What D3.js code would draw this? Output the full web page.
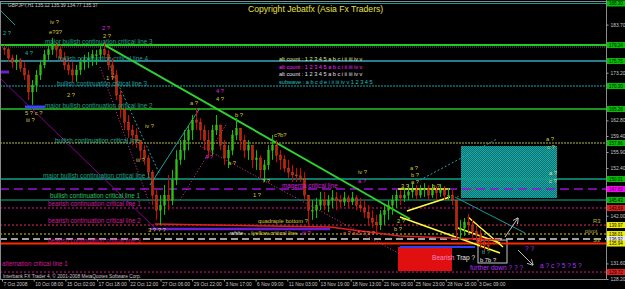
<!DOCTYPE html>
<html>
<head>
<meta charset="utf-8">
<script src="https://cdn.jsdelivr.net/npm/d3@7"></script>
<style>
  body { margin: 0; background: #000; }
  svg { display: block; font-family: "Liberation Sans", Arial, sans-serif; }
</style>
</head>
<body>
<svg id="chart" width="625" height="289"></svg>
<script>
// ---- data (GBPJPY H1, 7 Oct - 3 Dec 2008) ----
var firstOpen = 178.6;
var highs = [179.2,178.6,177.1,177.1,176.4,175.5,173.8,171.6,173.8,176.0,
             178.2,179.2,180.8,179.9,179.2,177.7,176.4,175.5,174.9,176.4,
             177.1,177.7,178.2,178.2,179.2,179.9,178.2,176.4,173.8,169.4,
             165.5,164.0,161.8,161.1,158.5,157.4,155.2,152.0,147.6,146.5,
             148.7,150.9,152.0,156.3,158.5,160.7,161.8,164.0,165.5,163.3,
             161.8,160.7,161.8,164.0,161.8,158.5,157.4,160.7,163.3,161.1,
             159.6,158.5,157.4,156.3,155.2,154.2,157.4,159.6,158.5,156.3,
             155.2,154.2,153.1,152.4,152.4,151.5,146.5,145.4,145.9,147.2,
             147.2,146.5,147.6,147.2,146.5,147.2,146.5,147.2,146.5,145.9,
             145.4,144.3,143.2,142.2,143.2,144.3,145.4,146.5,147.6,147.6,
             148.0,148.7,149.1,148.7,148.7,149.1,148.7,148.9,148.5,148.9,
             148.5,148.0,147.6,145.4,141.1,141.5,142.4,141.1,140.0,138.9,
             137.1,136.7];
var lows = [177.1,175.5,174.2,173.8,173.4,171.6,167.2,166.2,169.0,171.6,
            174.2,176.0,177.1,176.4,175.5,173.8,172.7,171.2,171.2,172.7,
            173.8,174.2,174.7,174.9,176.0,176.4,173.8,171.6,167.2,163.3,
            160.7,159.0,157.4,156.8,154.2,153.1,150.2,144.3,141.1,140.0,
            142.2,143.2,144.3,148.7,153.1,154.2,156.3,158.5,160.7,158.5,
            156.3,154.6,155.2,159.6,156.3,153.1,152.4,155.2,158.5,156.3,
            154.6,154.2,152.4,152.0,150.2,149.4,152.0,154.2,153.7,152.0,
            151.5,150.2,149.4,149.4,149.4,145.4,140.0,141.1,141.5,143.2,
            143.2,142.8,143.7,143.2,143.7,144.1,143.7,144.3,143.2,142.8,
            141.5,140.0,139.3,138.2,138.9,140.0,141.1,142.2,143.7,144.3,
            145.0,145.4,145.9,145.4,145.9,146.1,145.4,145.9,145.4,146.1,
            145.4,145.4,144.3,137.1,136.7,137.6,138.5,137.1,136.3,135.0,
            134.1,134.8];
var closes = [178.2,176.4,175.5,176.0,174.2,172.7,169.0,170.5,172.7,174.9,
              177.1,178.2,179.2,178.2,176.4,174.9,173.8,172.7,173.8,175.5,
              176.0,176.4,177.1,177.1,178.2,177.1,174.9,172.7,168.3,165.1,
              162.4,160.7,159.6,158.5,156.3,154.6,151.5,146.5,143.2,144.3,
              146.5,145.4,149.8,154.2,156.3,158.5,160.7,162.9,162.4,160.7,
              158.5,156.3,160.7,161.8,157.4,154.6,156.3,159.6,161.1,158.5,
              156.3,157.4,154.2,154.6,152.0,153.1,156.3,157.4,155.2,154.2,
              152.4,151.5,150.9,150.7,150.2,146.5,143.2,143.2,144.3,145.4,
              144.3,145.4,145.9,145.4,145.0,145.9,145.0,145.9,144.3,143.7,
              142.8,141.5,140.6,140.0,142.2,143.2,144.3,145.4,146.5,145.9,
              146.5,147.2,147.6,146.5,147.6,148.0,146.5,147.6,147.0,147.6,
              146.5,146.5,145.4,138.9,139.3,140.6,140.0,138.5,137.8,136.3,
              135.6,135.4];

var timeLabels = ["7 Oct 2008","10 Oct 08:00","15 Oct 02:00","17 Oct 18:00","22 Oct 12:00",
                  "27 Oct 06:00","29 Oct 22:00","3 Nov 17:00","6 Nov 09:00","11 Nov 03:00",
                  "13 Nov 19:00","18 Nov 13:00","21 Nov 05:00","25 Nov 23:00","28 Nov 15:00","3 Dec 09:00"];
var barsPerLabel = 7.925;
var priceTicks = [128.2,131.6,135.1,138.6,142.0,145.5,149.0,152.4,155.9,159.4,
                  162.8,166.3,169.7,173.2,176.7,180.2,183.7,187.1];

// horizontal critical lines
var levelPrices = [188.30,179.24,178.81,175.75,170.30,165.28,157.86,150.01,147.83,
                   145.43,143.69,139.97,138.01,136.92,135.94,129.72];
var levelLabels = ["","major bullish continuation critical line 3","","bullish continuation critical line 4",
                   "bullish continuation critical line 3","major bullish continuation critical line 2",
                   "bullish continuation critical line","major bullish continuation critical line 1",
                   "magenta critical line","bullish continuation critical line 1",
                   "bearish continuation critical line 1","bearish continuation critical line 2","","",
                   "bearish continuation critical line 3","alternation critical line 1"];

// trend lines: [bar, price] points
var trendLines = [
  [[25.25,179.46],[102,141.29]],
  [[113.25,146.08],[130.75,138.23]],
  [[-0.5,172.04],[38.25,139.32]],
  [[24.5,174.44],[37,144.34]],
  [[26.5,175.53],[39.5,150.88]],
  [[37,148.70],[49.5,165.50]],
  [[44.5,145.43],[56.25,162.23]],
  [[49.5,157.21],[99.5,133.65]],
  [[104.5,149.79],[123.75,158.74]],
  [[113.75,146.08],[118.75,148.26]],
  [[99,147.83],[112,147.83]],
  [[101.25,143.03],[112,146.08]],
  [[99.5,141.72],[124.5,133.87]],
  [[116.5,141.72],[125.25,135.18]],
  [[114,139.32],[124.5,136.05]],
  [[-0.5,186.88],[3.25,183.61]],
  [[37,139.10],[82,139.10]],
  [[38.25,140.20],[82,139.54],[99.5,137.58],[124.5,136.70]],
  [[99.5,135.18],[118.25,135.18]],
  [[-0.5,173.35],[1.75,173.35]],
  [[5.75,165.72],[10.75,165.72]]
];
var arrows = [
  [[125.75,137.36],[129,141.5]],
  [[129,134.52],[132.75,131.25]]
];
// boxes: [bar0, bar1, priceTop, priceBottom]
var boxes = [
  [114.75,138.75,157.21,145.87],
  [99,112.5,135.18,129.94],
  [119,126.25,136.70,131.69]
];

// wave-count annotations: [bar, price, text, colour key]
var notes = [
  [12,184.26,"iv ?","Y"],[11.75,182.08,"e?3?","Y"],[0.25,181.86,"2 ?","T"],[5.75,177.5,"4 ?","T"],
  [25,182.9,"2 ?","M"],[25.25,181.2,"2 ?","Y"],[26,172.04,"1 ?","Y"],[16.25,168.34,"2 ?","Y"],
  [5.75,164.41,"5 ? c ?","Y"],[6,162.88,"iii ?","Y"],[35.75,161.57,"iv ?","Y"],[33.5,154.16,"iii ?","Y"],
  [47,166.59,"a ?","Y"],[53.5,169.21,"4 ?","M"],[53.5,167.46,"4 ?","Y"],[58.25,163.97,"b ?","Y"],
  [68,159.61,"c?b?","Y"],[56.5,153.5,"a ?","Y"],[50.75,154.81,"4 ?","M"],[65,149.57,"? ?","Y"],
  [62.75,146.52,"1 ?","Y"],[89,151.54,"iv ?","Y"],[89,149.57,"a ?","M"],
  [102,152.41,"a ?","Y"],[102.25,150.88,"b ?","Y"],[102.25,149.36,"a ?","Y"],[99.75,148.48,"3 ?","Y"],
  [107.5,148.48,"b ?","Y"],[136,158.74,"a ?","Y"],[136.25,157.0,"c ?","Y"],
  [136.75,151.32,"a ?","L"],[136.75,149.57,"c ?","L"],[36.5,138.89,"3 ? ? ?","Y"],
  [64,140.85,"quadraple bottom ?","Y"],[57,138.23,"white","W"],[62.2,138.23,"/yellow critical line","Y"],
  [75,138.23,"iii ?","M"],[85.25,138.23,"c ? a 5 ? 3 ?","R"],[98.75,140.85,"2 ?","Y"],[98,139.1,"b ?","Y"],
  [147.75,140.85,"R3","O"],[145.75,138.67,"pivot","O"],[147.75,136.7,"S3","O"],
  [107.5,132.78,"Bearish","P"],[113.6,132.78,"Trap ?","W"],
  [117,130.6,"further down ?  ? ?","V"],[134.5,131.03,"a ? c ? 5 ? 5 ?","V"],[130.75,134.74,"? ?","V"],
  [120,134.09,"b ?","T"],[119.5,132.34,"b 7b ?","W"]
];
var altCount = ["alt count : 1 2 3 4 5 a b c i ii iii iv v","alt count : 1 2 3 4 5 a b c i ii iii iv v",
                "alt count : 1 2 3 4 5 a b c i ii iii iv v","subwave : a b c d e i ii iii iv v 1 2 3 4 5"];

// ---- styles ----
var noteColors = {Y:"#d8c838",M:"#e020e0",T:"#20b0b0",W:"#e8e8e8",O:"#b8b040",P:"#ff80c0",V:"#b030ff",L:"#e0e090",R:"#ff6040"};
var levelStyles = [
  {c:"#1e9c9c",w:1,d:null,box:"#00c000",lx:0,t:"#1fa58a",dy:0},
  {c:"#22c822",w:2,d:null,box:"#00c000",lx:45,t:"#1fa58a",dy:-1},
  {c:"#606060",w:1,d:"1,1",box:null,lx:0,t:"",dy:0},
  {c:"#2a7d8c",w:2,d:null,box:"#00c000",lx:58,t:"#1fa09a",dy:0},
  {c:"#18a8a8",w:1,d:"2,1",box:"#00c000",lx:57,t:"#1fa0a0",dy:0},
  {c:"#22c822",w:1.5,d:null,box:"#00c000",lx:45,t:"#20a080",dy:-1},
  {c:"#7a7a30",w:1.5,d:"2,1",box:"#00c000",lx:55,t:"#28b090",dy:0},
  {c:"#12a08a",w:1.5,d:null,box:"#00c000",lx:43,t:"#20a080",dy:-1},
  {c:"#9a10d8",w:1.5,d:"9,5",box:"#ff00ff",lx:282,t:"#d020d0",dy:-1},
  {c:"#10b090",w:1,d:null,box:"#00c000",lx:50,t:"#30c060",dy:-2},
  {c:"#e0109a",w:1,d:"2,2",box:"#e02020",lx:48,t:"#d0189a",dy:-2},
  {c:"#e03060",w:1,d:"2,2",box:"#f0f000",lx:48,t:"#d0189a",dy:-2},
  {c:"#8a8a20",w:1.5,d:"2,2",box:"#f0f000",lx:0,t:"",dy:0},
  {c:"#a0a0a0",w:2,d:"7,4",box:"#e8e8e8",lx:0,t:"",dy:0},
  {c:"#ff2a00",w:2,d:null,box:"#f0f000",lx:48,t:"#d0189a",dy:-1},
  {c:"#e0108a",w:1,d:"2,2",box:"#e02020",lx:2,t:"#d0189a",dy:-6}
];
var trendStyles = [
  {c:"#30d030",w:2},{c:"#1a9a9a",w:1},{c:"#8a0090",w:1},{c:"#e030a0",w:1,d:"1,2"},
  {c:"#20a0a0",w:1,d:"2,2"},{c:"#20a0a0",w:1},{c:"#e030a0",w:1,d:"1,2"},{c:"#e030a0",w:1,d:"1,2"},
  {c:"#20a0a0",w:1,d:"2,2"},{c:"#a05020",w:1,d:"2,2"},{c:"#ffff40",w:1.5},{c:"#ffff40",w:1.5},
  {c:"#ffff40",w:1.5},{c:"#ffff40",w:1.5},{c:"#ffff40",w:1.5},{c:"#1a9a9a",w:1},
  {c:"#6a20d0",w:2.5},{c:"#e02020",w:1.5},{c:"#3040ff",w:2},{c:"#6a20d0",w:3},{c:"#4040ff",w:3}
];
var boxStyles = [{f:"url(#dither)",s:"none"},{f:"#e01010",s:"none"},{f:"none",s:"#c8c8c8"}];

// ---- scales ----
var W = 625, H = 289, right = 606.5, bottom = 279.5;
var x = d3.scaleLinear().domain([0, 122]).range([2, 490]);
var y = d3.scaleLinear().domain([128.2, 187.1]).range([279, 9]);

var svg = d3.select("#chart");
svg.append("rect").attr("width", W).attr("height", H).attr("fill", "#000");

var defs = svg.append("defs");
var pat = defs.append("pattern").attr("id", "dither").attr("width", 2).attr("height", 2)
    .attr("patternUnits", "userSpaceOnUse");
pat.append("rect").attr("width", 2).attr("height", 2).attr("fill", "#0b7070");
pat.append("rect").attr("width", 1).attr("height", 1).attr("fill", "#1aa8a8");
pat.append("rect").attr("x", 1).attr("y", 1).attr("width", 1).attr("height", 1).attr("fill", "#1aa8a8");
defs.append("clipPath").attr("id", "plotClip").append("rect")
    .attr("x", 1).attr("y", 2).attr("width", right - 1).attr("height", bottom - 2);
defs.append("marker").attr("id", "arrowHead").attr("viewBox", "0 0 10 10").attr("refX", 9).attr("refY", 5)
    .attr("markerWidth", 6).attr("markerHeight", 6).attr("orient", "auto")
  .append("path").attr("d", "M0,0 L10,5 L0,10").attr("fill", "none").attr("stroke", "#c0c0c0").attr("stroke-width", 1.5);

var plot = svg.append("g").attr("clip-path", "url(#plotClip)");

////////// boxes //////////
plot.selectAll(".box").data(boxes).enter().append("rect")
    .attr("x", function(d) { return x(d[0]); })
    .attr("y", function(d) { return y(d[2]); })
    .attr("width", function(d) { return x(d[1]) - x(d[0]); })
    .attr("height", function(d) { return y(d[3]) - y(d[2]); })
    .attr("fill", function(d, i) { return boxStyles[i].f; })
    .attr("stroke", function(d, i) { return boxStyles[i].s; });

////////// levels //////////
plot.selectAll(".level").data(levelPrices).enter().append("line")
    .attr("x1", 0).attr("x2", right)
    .attr("y1", function(d) { return y(d); }).attr("y2", function(d) { return y(d); })
    .attr("stroke", function(d, i) { return levelStyles[i].c; })
    .attr("stroke-width", function(d, i) { return levelStyles[i].w; })
    .attr("stroke-dasharray", function(d, i) { return levelStyles[i].d; });

////////// trend lines //////////
var line = d3.line().x(function(p) { return x(p[0]); }).y(function(p) { return y(p[1]); });
plot.selectAll(".trend").data(trendLines).enter().append("path")
    .attr("d", line).attr("fill", "none")
    .attr("stroke", function(d, i) { return trendStyles[i].c; })
    .attr("stroke-width", function(d, i) { return trendStyles[i].w; })
    .attr("stroke-dasharray", function(d, i) { return trendStyles[i].d || null; });

////////// candles //////////
var bars = closes.map(function(c, i) {
  var o = i === 0 ? firstOpen : closes[i - 1];
  return {i: i, o: o, c: c, h: Math.max(highs[i], o, c), l: Math.min(lows[i], o, c)};
});
var candle = plot.selectAll(".candle").data(bars).enter().append("g");
candle.append("line")
    .attr("x1", function(d) { return Math.round(x(d.i + 0.5)) + 0.5; })
    .attr("x2", function(d) { return Math.round(x(d.i + 0.5)) + 0.5; })
    .attr("y1", function(d) { return y(d.h); }).attr("y2", function(d) { return y(d.l); })
    .attr("stroke", function(d) { return d.c >= d.o ? "#00c800" : "#e00000"; });
candle.append("rect")
    .attr("x", function(d) { return Math.round(x(d.i + 0.5)) - 0.5; })
    .attr("width", 2)
    .attr("y", function(d) { return y(Math.max(d.o, d.c)); })
    .attr("height", function(d) { return Math.max(1, Math.abs(y(d.o) - y(d.c))); })
    .attr("fill", function(d) { return d.c >= d.o ? "#10d010" : "#e01010"; })
    .attr("stroke", "#a0a020").attr("stroke-width", 0.3);

plot.selectAll(".arrow").data(arrows).enter().append("path")
    .attr("d", line).attr("stroke", "#c0c0c0").attr("stroke-width", 1)
    .attr("marker-end", "url(#arrowHead)");

////////// labels //////////
plot.selectAll(".levelLabel").data(levelPrices).enter().append("text")
    .attr("x", function(d, i) { return levelStyles[i].lx; })
    .attr("y", function(d, i) { return y(d) + levelStyles[i].dy; })
    .attr("fill", function(d, i) { return levelStyles[i].t; })
    .attr("font-size", "6.3px")
    .text(function(d, i) { return levelLabels[i]; });

plot.selectAll(".note").data(notes).enter().append("text")
    .attr("x", function(d) { return x(d[0]); })
    .attr("y", function(d) { return y(d[1]) + 2; })
    .attr("fill", function(d) { return noteColors[d[3]]; })
    .attr("font-size", function(d) { return d[3] === "V" || d[3] === "P" || d[2] === "Trap ?" ? "6.6px" : "5.8px"; })
    .text(function(d) { return d[2]; });

var altColors = ["#e8e890", "#ff20ff", "#e0e0e0", "#20c0c0"];
svg.selectAll(".alt").data(altCount).enter().append("text")
    .attr("x", 279).attr("y", function(d, i) { return 61 + i * 7.7; })
    .attr("fill", function(d, i) { return altColors[i]; })
    .attr("font-size", "5.6px").text(function(d) { return d; });

svg.append("text").attr("x", 248).attr("y", 12).attr("fill", "#e8e040")
    .attr("font-size", "8.6px").text("Copyright Jebatfx (Asia Fx Traders)");
svg.append("text").attr("x", 8).attr("y", 7).attr("fill", "#c8c8c8")
    .attr("font-size", "4.8px").text("GBPJPY,H1  135.12 135.39 134.77 135.37");
svg.append("text").attr("x", 3).attr("y", 278).attr("fill", "#c8c8c8")
    .attr("font-size", "4.8px").text("Interbank FX Trader 4, \u00a9 2001-2008 MetaQuotes Software Corp.");

////////// frame & axes //////////
svg.append("line").attr("x1", 0).attr("x2", right).attr("y1", 1.5).attr("y2", 1.5).attr("stroke", "#8a8a8a");
svg.append("line").attr("x1", 0).attr("x2", right).attr("y1", bottom).attr("y2", bottom).attr("stroke", "#8a8a8a");
svg.append("line").attr("x1", right).attr("x2", right).attr("y1", 0).attr("y2", bottom).attr("stroke", "#8a8a8a");
svg.append("line").attr("x1", 0.5).attr("x2", 0.5).attr("y1", 1).attr("y2", bottom).attr("stroke", "#8a8a8a");

// price tags cover the tick labels next to them, as in the terminal
var boxed = levelPrices.map(function(p, i) { return {p: p, s: levelStyles[i]}; })
    .filter(function(d) { return d.s.box; });
var visibleTicks = priceTicks.filter(function(t) {
  return !boxed.some(function(b) { return Math.abs(y(b.p) - y(t)) < 6; });
});

var yAxis = svg.append("g").attr("transform", "translate(" + right + ",0)")
    .call(d3.axisRight(y).tickValues(visibleTicks).tickFormat(d3.format(".2f")).tickSize(2).tickPadding(2));
yAxis.select(".domain").remove();
yAxis.selectAll("line").attr("stroke", "#a0a0a0");
yAxis.selectAll("text").attr("fill", "#c8c8c8").attr("font-size", "4.9px")
    .attr("font-family", "Liberation Sans, Arial, sans-serif");

var tickBars = timeLabels.map(function(d, k) { return k * barsPerLabel; });
var xAxis = svg.append("g").attr("transform", "translate(0," + bottom + ")")
    .call(d3.axisBottom(x).tickValues(tickBars).tickFormat(function(d, k) { return timeLabels[k]; })
      .tickSize(2).tickPadding(1.5));
xAxis.select(".domain").remove();
xAxis.selectAll("line").attr("stroke", "#a0a0a0");
xAxis.selectAll("text").attr("fill", "#c8c8c8").attr("font-size", "4.9px").attr("text-anchor", "start")
    .attr("dx", 1).attr("font-family", "Liberation Sans, Arial, sans-serif");

////////// price boxes on the axis //////////
var tag = svg.selectAll(".tag").data(boxed).enter().append("g")
    .attr("transform", function(d) { return "translate(" + (right + 0.5) + "," + y(d.p) + ")"; });
tag.append("rect").attr("x", 0).attr("y", -3).attr("width", 18).attr("height", 6)
    .attr("fill", function(d) { return d.s.box; });
tag.append("text").attr("x", 2).attr("y", 1.7).attr("font-size", "4.5px").attr("fill", "#000")
    .text(function(d) { return d3.format(".2f")(d.p); });
</script>
</body>
</html>
